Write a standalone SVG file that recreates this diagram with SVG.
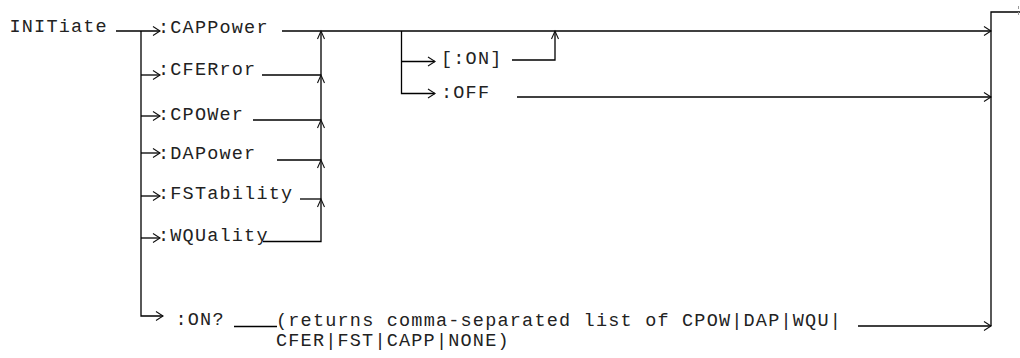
<svg xmlns="http://www.w3.org/2000/svg" xmlns:xlink="http://www.w3.org/1999/xlink" width="1020" height="358" viewBox="0 0 1020 358">
<style>
text{font-family:"Liberation Mono","DejaVu Sans Mono",monospace;font-size:18.5px;letter-spacing:1.2px;fill:#222}
.ln{fill:none;stroke:#000;stroke-width:1.3}
.ah{fill:none;stroke:#111;stroke-width:1.1}
</style>
<defs>
<path id="rt" class="ah" d="M-7 -4.5 L0 0 L-7 4.5"/>
<path id="up" class="ah" d="M-3.5 8 L0 0 L3.5 8"/>
</defs>
<rect width="1020" height="358" fill="#fff"/>
<g id="connectors">
<path class="ln" d="M116 31 H160"/>
<path class="ln" d="M141 31 V316 H163"/>
<path class="ln" d="M141 75 H160"/>
<path class="ln" d="M141 116 H160"/>
<path class="ln" d="M141 153 H160"/>
<path class="ln" d="M141 196 H160"/>
<path class="ln" d="M141 238 H160"/>
<use href="#rt" x="160" y="31"/>
<use href="#rt" x="160" y="75"/>
<use href="#rt" x="160" y="116"/>
<use href="#rt" x="160" y="153"/>
<use href="#rt" x="160" y="196"/>
<use href="#rt" x="160" y="238"/>
<use href="#rt" x="163" y="316"/>
<path class="ln" d="M282 31 H991"/>
<path class="ln" d="M262 75 H321"/>
<path class="ln" d="M253 120 H321"/>
<path class="ln" d="M277 160 H321"/>
<path class="ln" d="M300 199 H321"/>
<path class="ln" d="M263 241.5 H321 V31"/>
<use href="#up" x="321" y="31"/>
<use href="#up" x="321" y="75"/>
<use href="#up" x="321" y="120"/>
<use href="#up" x="321" y="160"/>
<use href="#up" x="321" y="199"/>
<path class="ln" d="M401.5 31 V93.5 H435"/>
<path class="ln" d="M401.5 61.5 H435"/>
<use href="#rt" x="435" y="61.5"/>
<use href="#rt" x="435" y="93.5"/>
<path class="ln" d="M512 60 H555 V31"/>
<use href="#up" x="555" y="31"/>
<path class="ln" d="M517 97 H991"/>
<path class="ln" d="M234 326.5 H277"/>
<path class="ln" d="M858 326 H991"/>
<use href="#rt" x="991" y="31"/>
<use href="#rt" x="991" y="97"/>
<use href="#rt" x="991" y="326"/>
<path class="ln" d="M1020 12 H991 V326"/>
<line x1="1018.5" y1="6" x2="1018.5" y2="17" stroke="#999" stroke-width="1" stroke-dasharray="3 3"/>
</g>
<g id="initiate"><text x="9.5" y="32">INITiate</text></g>
<g id="cappower"><text x="158" y="33">:CAPPower</text></g>
<g id="cferror"><text x="158" y="75">:CFERror</text></g>
<g id="cpower"><text x="158" y="120">:CPOWer</text></g>
<g id="dapower"><text x="158" y="159">:DAPower</text></g>
<g id="fstability"><text x="158" y="199">:FSTability</text></g>
<g id="wquality"><text x="158" y="241">:WQUality</text></g>
<g id="on"><text x="441" y="64">[:ON]</text></g>
<g id="off"><text x="441" y="97.5">:OFF</text></g>
<g id="onquery"><text x="175.5" y="325">:ON?</text></g>
<g id="returns">
<text x="276" y="326" textLength="566" lengthAdjust="spacing">(returns comma-separated list of CPOW|DAP|WQU|</text>
<text x="276" y="346">CFER|FST|CAPP|NONE)</text>
</g>
</svg>
